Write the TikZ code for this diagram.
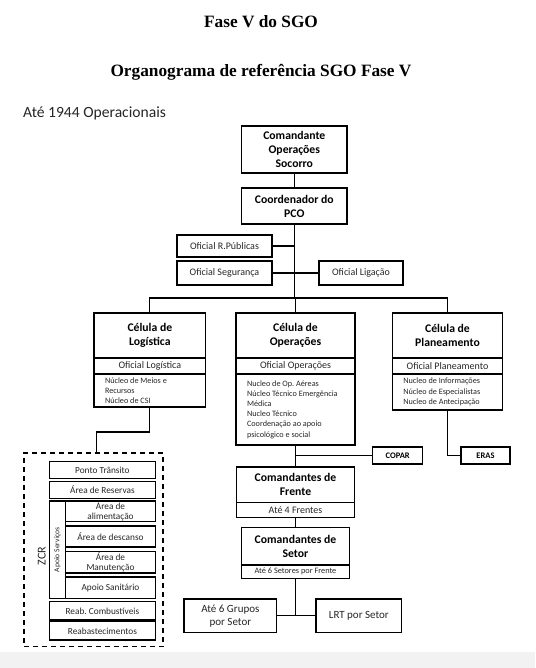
\documentclass[tikz,border=0pt]{standalone}
\usepackage{fontspec}
\setmainfont{Carlito}
\newfontfamily\titlefont{Liberation Serif}
\frenchspacing
\begin{document}
\begin{tikzpicture}[x=1pt,y=-1pt,
  box/.style={draw, line width=1.1pt, inner sep=0pt, align=center, text=black!85},
  hdr/.style={box, text=black, font=\bfseries\fontsize{11.7}{14}\selectfont},
  sub/.style={box, font=\fontsize{10}{12}\selectfont},
  lst/.style={box, font=\fontsize{8.2}{10.2}\selectfont, align=flush left, inner xsep=11pt},
  zbox/.style={box, font=\fontsize{9.3}{10.2}\selectfont},
  tag/.style={box, text=black, font=\bfseries\fontsize{8.5}{10}\selectfont},
  conn/.style={line width=1.1pt},
  sz/.style 2 args={minimum width=#1pt, minimum height=#2pt}
]
\useasboundingbox (0,0) rectangle (535,668);
\fill[black!5] (0,652) rectangle (535,668);

% titles
\node[font=\titlefont\bfseries\fontsize{17.3}{20}\selectfont] (t1) at (261,22) {Fase V do SGO};
\node[font=\titlefont\bfseries\fontsize{17.3}{20}\selectfont] (t2) at (261,72) {Organograma de referência SGO Fase V};
\node[font=\fontsize{15.6}{18}\selectfont, anchor=west, inner sep=0pt, text=black!85] (t3) at (23,113) {Até 1944 Operacionais};

% top chain
\node[hdr, sz={105.3}{47}] (cos) at (294.3,149.5) {Comandante\\Operações\\Socorro};
\node[hdr, sz={105.3}{36}] (pco) at (294.3,206) {Coordenador do\\PCO};
\node[sub, sz={95}{22}] (orp) at (224.5,246) {Oficial R.Públicas};
\node[sub, sz={95}{24}] (oseg) at (224.5,273) {Oficial Segurança};
\node[sub, sz={84}{24}] (olig) at (361,273) {Oficial Ligação};

% cells
\node[hdr, sz={111.7}{45}] (logh) at (149.85,335.5) {Célula de\\Logística};
\node[sub, sz={111.7}{16}] (logo) at (149.85,366) {Oficial Logística};
\node[lst, sz={111.7}{33}, text width=89.7pt] (logl) at (149.85,390.5) {Núcleo de Meios e\\Recursos\\Núcleo de CSI};

\node[hdr, sz={119}{45}] (oph) at (295.5,335.5) {Célula de\\Operações};
\node[sub, sz={119}{16}] (opo) at (295.5,366) {Oficial Operações};
\node[lst, sz={119}{71}, text width=97pt] (opl) at (295.5,409.5) {Nucleo de Op. Aéreas\\Núcleo Técnico Emergência\\Médica\\Nucleo Técnico\\Coordenação ao apoio\\psicológico e social};

\node[hdr, sz={110.4}{45}] (plh) at (447.5,335.5) {Célula de\\Planeamento};
\node[sub, sz={110.4}{16}] (plo) at (447.5,366) {Oficial Planeamento};
\node[lst, sz={110.4}{36}, text width=88.4pt] (pll) at (447.5,392) {Nucleo de Informações\\Núcleo de Especialistas\\Nucleo de Antecipação};

\node[tag, sz={50}{17}] (copar) at (397.7,455.5) {COPAR};
\node[tag, sz={49}{17}] (eras) at (485.5,455.5) {ERAS};

% lower chain
\node[hdr, sz={117.3}{35.7}] (fh) at (295.5,484.85) {Comandantes de\\Frente};
\node[sub, sz={117.3}{15}] (fs) at (295.5,510.2) {Até 4 Frentes};
\node[hdr, sz={107.8}{37.3}] (sh) at (295.5,546.35) {Comandantes de\\Setor};
\node[box, sz={107.8}{13.3}, font=\fontsize{8.3}{10}\selectfont] (ss) at (295.5,571.65) {Até 6 Setores por Frente};
\node[box, sz={92.7}{33.7}, font=\fontsize{11}{13.3}\selectfont] (grp) at (230.35,615.85) {Até 6 Grupos\\por Setor};
\node[box, sz={85.7}{33.7}, font=\fontsize{11}{13.3}\selectfont] (lrt) at (358.85,615.85) {LRT por Setor};

% ZCR
\node[draw, line width=1.1pt, dash pattern=on 5pt off 4pt, sz={139}{193.7}] (zcr) at (93.5,549.85) {};
\node[rotate=90, font=\fontsize{12}{14}\selectfont, text=black!85, inner sep=0pt] (zcrl) at (41.7,556) {ZCR};
\node[zbox, sz={106.2}{16.6}] (pt) at (102.4,470) {Ponto Trânsito};
\node[zbox, sz={106.2}{17.3}] (ar) at (102.4,489.7) {Área de Reservas};
\node[box, rotate=90, sz={97.3}{16.2}, font=\fontsize{7.6}{8}\selectfont] (aps) at (57.4,549.65) {Apoio Serviços};
\node[zbox, sz={90}{20.5}] (aal) at (110.5,511.25) {Área de\\alimentação};
\node[zbox, sz={90}{21}] (ade) at (110.5,536.5) {Área de descanso};
\node[zbox, sz={90}{21.5}] (ama) at (110.5,562.25) {Área de\\Manutenção};
\node[zbox, sz={90}{21.3}] (asa) at (110.5,587.65) {Apoio Sanitário};
\node[zbox, sz={106.2}{18.3}] (rc) at (102.4,610.85) {Reab. Combustíveis};
\node[zbox, sz={106.2}{18.3}] (rb) at (102.4,630.85) {Reabastecimentos};

% connectors
\coordinate (bus) at (295.5,298);
\coordinate (zbend) at (96.7,432);
\draw[conn] (cos) -- (pco);
\draw[conn] (pco.south) -- (pco.south |- bus);
\draw[conn] (orp.east) -- (orp.east -| pco.south);
\draw[conn] (oseg.east) -- (olig.west);
\draw[conn] (logh.north) -- (logh.north |- bus) -- (plh.north |- bus) -- (plh.north);
\draw[conn] (oph.north) -- (oph.north |- bus);
\draw[conn] (logl.south) |- (zbend) -- (zbend |- zcr.north);
\draw[conn] (opl.south) -- (fh.north);
\draw[conn] (opl.south |- copar.west) -- (copar.west);
\draw[conn] (pll.south) |- (eras.west);
\draw[conn] (fs.south) -- (sh.north);
\draw[conn] (ss.south) -- (ss.south |- grp.east);
\draw[conn] (grp.east) -- (lrt.west);
\end{tikzpicture}
\end{document}
